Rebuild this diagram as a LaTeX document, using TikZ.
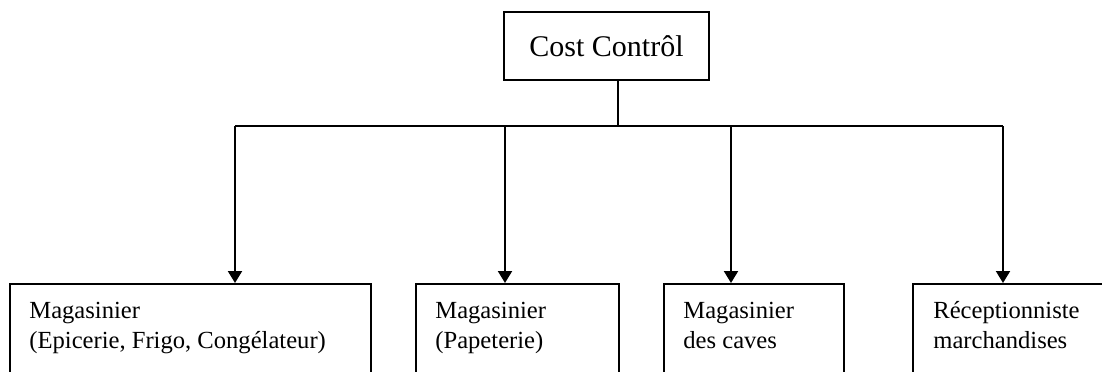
\documentclass[tikz,border=0pt]{standalone}
\usepackage{fontspec}
\setmainfont{Liberation Serif}
\usetikzlibrary{arrows.meta}
\tikzset{
  box/.style={draw, line width=1pt, rectangle, inner sep=0pt},
  lbl/.style={anchor=base west, align=left, inner sep=0pt,
    font=\fontsize{12.3pt}{15pt}\selectfont},
  link/.style={line width=1pt},
  arr/.style={line width=1pt, -{Triangle[width=7pt,length=6pt]}}
}
\begin{document}
\begin{tikzpicture}[x=0.5pt, y=-0.5pt]
  \useasboundingbox (0,0) rectangle (1102,371);
  \clip (0,0) rectangle (1102,371);
  \node[box, minimum width=102.5pt, minimum height=34pt,
    font=\fontsize{15pt}{18pt}\selectfont] (cc) at (606.5,46) {Cost Contrôl};
  \node[box, anchor=north west, minimum width=180.5pt, minimum height=60pt] (m1) at (9,283) {};
  \node[box, anchor=north west, minimum width=101.5pt, minimum height=60pt] (m2) at (415,283) {};
  \node[box, anchor=north west, minimum width=90pt, minimum height=60pt] (m3) at (663,283) {};
  \node[box, anchor=north west, minimum width=110pt, minimum height=60pt] (m4) at (912,283) {};
  \node[lbl] (t1) at ([shift={(20,65)}]m1.north west) {Magasinier\\(Epicerie, Frigo, Congélateur)};
  \node[lbl] (t2) at ([shift={(20,65)}]m2.north west) {Magasinier\\(Papeterie)};
  \node[lbl] (t3) at ([shift={(20,65)}]m3.north west) {Magasinier\\des caves};
  \node[lbl] (t4) at ([shift={(21,65)}]m4.north west) {Réceptionniste\\marchandises};
  \coordinate (hub) at (618,126);
  \coordinate (b1) at (235,126);
  \coordinate (b2) at (505,126);
  \coordinate (b3) at (731,126);
  \coordinate (b4) at (1003,126);
  \draw[link] (cc.south -| hub) -- (hub);
  \draw[link] (b1) -- (b4);
  \draw[arr] (b1) -- (b1 |- m1.north);
  \draw[arr] (b2) -- (b2 |- m2.north);
  \draw[arr] (b3) -- (b3 |- m3.north);
  \draw[arr] (b4) -- (b4 |- m4.north);
\end{tikzpicture}
\end{document}
